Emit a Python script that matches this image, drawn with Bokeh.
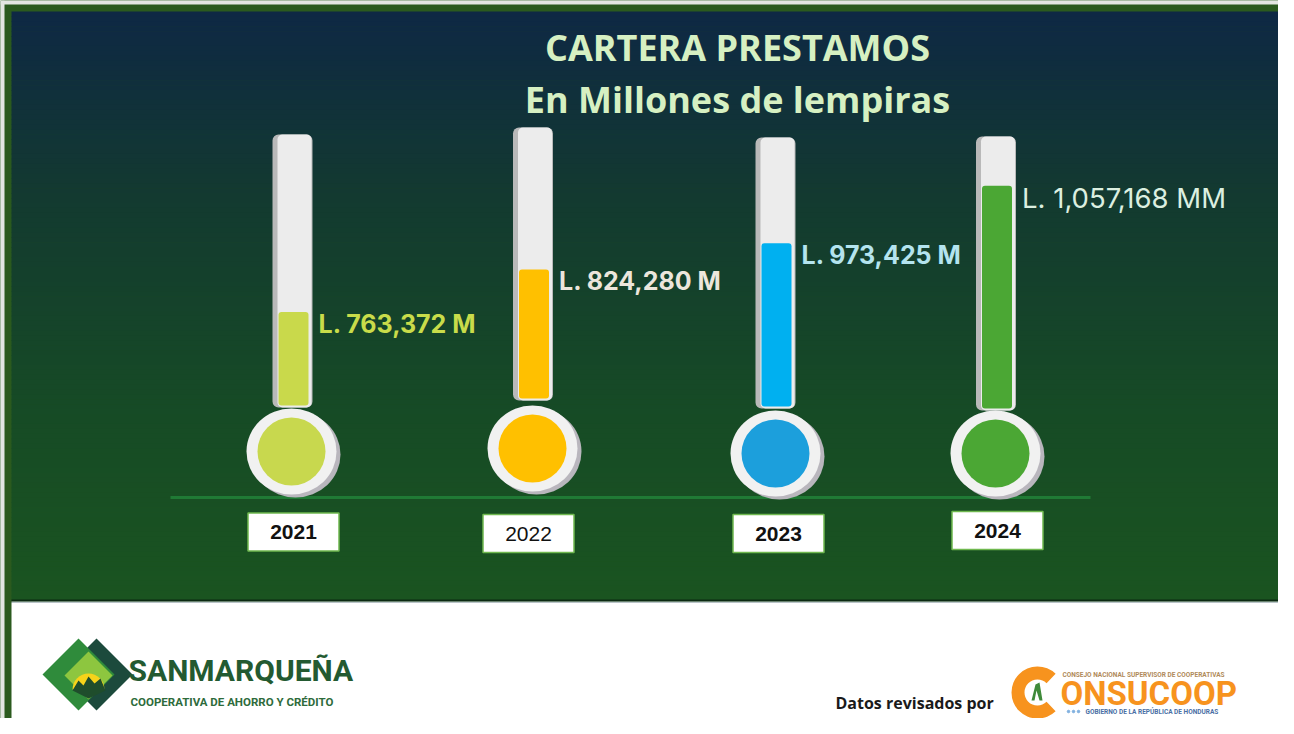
import numpy as np
from bokeh.plotting import figure
from bokeh.models import Range1d, ColumnDataSource
from bokeh.core.properties import value
from bokeh.embed import file_html
from bokeh.resources import INLINE

# ---------------- data ----------------
anios = ["2021", "2022", "2023", "2024"]
cartera = [763372, 824280, 973425, 1057168]
sufijo = ["M", "M", "M", "MM"]
nivel = [0.35, 0.48, 0.61, 0.82]          # fill level of each thermometer
titulo1 = "CARTERA PRESTAMOS"
titulo2 = "En Millones de lempiras"

# ---------------- styles / layout ----------------
col_relleno = ["#c9d94b", "#ffc000", "#00b0f0", "#4ba734"]
col_bulbo = ["#c8d84e", "#ffc000", "#1c9fdc", "#4ba734"]
col_etiqueta = ["#c9dc4a", "#ece6dc", "#b4e4ef", "#dcefe0"]
estilo_etiqueta = ["bold", "bold", "bold", "normal"]
tam_etiqueta = ["25px", "25px", "25px", "27.5px"]
estilo_anio = ["bold", "normal", "bold", "bold"]

tubo_x = [284, 524.5, 767, 987.5]
tubo_top = [126, 119, 129, 128]
tubo_bot = [399, 392, 400, 402]
bulbo_x = [283, 524, 767, 987]
bulbo_y = [443, 440, 445, 445]
caja_x = [285, 520, 770, 989]
caja_y = [523.5, 525, 525, 522]

W, H = 1278, 718
FRAME = "#2b5a1e"

p = figure(width=W, height=H, x_range=Range1d(-8, W - 8), y_range=Range1d(H - 8, -8),
           output_backend="svg", toolbar_location=None, min_border=0)
p.axis.visible = False
p.grid.visible = False
p.outline_line_color = None
p.background_fill_color = FRAME
p.border_fill_color = FRAME

# outer light edge
p.quad(left=-8, right=-4, top=-8, bottom=720, fill_color="#e4e6e2", line_color=None)
p.quad(left=-8, right=1280, top=-8, bottom=-4, fill_color="#e4e6e2", line_color=None)

# ---------------- panel gradient ----------------
stops_y = [3, 190, 390, 592]
stops_c = [(14, 40, 68), (19, 58, 48), (22, 74, 38), (26, 84, 32)]
n = 120
ys = np.linspace(3, 592, n + 1)
cols = []
for i in range(n):
    ym = (ys[i] + ys[i + 1]) / 2
    rgb = [np.interp(ym, stops_y, [c[k] for c in stops_c]) for k in range(3)]
    cols.append("#%02x%02x%02x" % tuple(int(round(v)) for v in rgb))
p.quad(left=3, right=1280, top=ys[:-1], bottom=ys[1:] + 0.6, fill_color=cols, line_color=None)

# separator + footer
p.quad(left=3, right=1280, top=591, bottom=593, fill_color="#0c2a12", line_color=None)
p.quad(left=3, right=1280, top=593, bottom=594.5, fill_color="#b9c4c8", line_color=None)
p.quad(left=3, right=1280, top=594.5, bottom=720, fill_color="#ffffff", line_color=None)

# ---------------- title ----------------
p.text(x=[729], y=[39], text=[titulo1], text_font=value("Open Sans"), text_font_size="36px",
       text_font_style="bold", text_color="#d6f0c2", text_align="center", text_baseline="middle")
p.text(x=[729], y=[91], text=[titulo2], text_font=value("Open Sans"), text_font_size="36px",
       text_font_style="bold", text_color="#d6f0c2", text_align="center", text_baseline="middle")

# ---------------- thermometers ----------------
fill_top = [b - lv * (b - t) for b, t, lv in zip(tubo_bot, tubo_top, nivel)]
src = ColumnDataSource(dict(
    tx=tubo_x, tt=tubo_top, tb=tubo_bot, ft=fill_top, fb=[b - 2 for b in tubo_bot],
    txi=[x + 2 for x in tubo_x], fx=[x + 1 for x in tubo_x],
    bx=bulbo_x, by=bulbo_y, bxs=[x + 4 for x in bulbo_x], bys=[y + 3 for y in bulbo_y],
    cf=col_relleno, cb=col_bulbo,
))

# baseline
p.segment(x0=162, y0=489, x1=1082, y1=489, line_color="#207a35", line_width=3)

# tube
p.vbar(x="tx", width=40, top="tt", bottom="tb", source=src, fill_color="#b9b9b9",
       line_color=None, border_radius=6)
p.vbar(x="txi", width=34, top="tt", bottom="tb", source=src, fill_color="#ececec",
       line_color=None, border_radius=5)
p.vbar(x="fx", width=30, top="ft", bottom="fb", source=src,
       fill_color="cf", line_color=None, border_radius=3)

# bulb
p.ellipse(x="bxs", y="bys", width=90, height=86, source=src, fill_color="#b9b6bd", line_color=None)
p.ellipse(x="bx", y="by", width=90, height=86, source=src, fill_color="#f1f1f1", line_color=None)
p.ellipse(x="bx", y="by", width=68, height=68, source=src, fill_color="cb", line_color=None)

# value labels
etiquetas = ["L. {:,} {}".format(v, s) for v, s in zip(cartera, sufijo)]
lab = ColumnDataSource(dict(x=[x + 26 for x in tubo_x], y=[f + 12 for f in fill_top],
                            t=etiquetas, c=col_etiqueta, s=estilo_etiqueta, z=tam_etiqueta))
p.text(x="x", y="y", text="t", source=lab, text_font=value("Inter"), text_font_size="z",
       text_font_style="s", text_color="c", text_align="left", text_baseline="middle")

# year boxes
yb = ColumnDataSource(dict(x=caja_x, y=caja_y, t=anios, s=estilo_anio))
p.rect(x="x", y="y", width=91, height=38, source=yb, fill_color="#ffffff",
       line_color="#6fb84f", line_width=1.5)
p.text(x="x", y="y", text="t", source=yb, text_font=value("Liberation Sans"), text_font_size="21px",
       text_font_style="s", text_color="#111111", text_align="center", text_baseline="middle")

# ---------------- footer: SANMARQUEÑA logo ----------------
def diamond(cx, cy, hw, hh):
    return [cx - hw, cx, cx + hw, cx], [cy, cy - hh, cy, cy + hh]

dx, dy = diamond(88, 666, 36, 36)
p.patch(dx, dy, fill_color="#1c4a3c", line_color=None)
dx, dy = diamond(70, 666, 36, 36)
p.patch(dx, dy, fill_color="#2f8b3b", line_color=None)
dx, dy = diamond(80, 667, 24, 24)
p.patch(dx, dy, fill_color="#8dc63f", line_color=None)
p.wedge(x=[80], y=[681], radius=16, start_angle=0, end_angle=np.pi, direction="anticlock",
        fill_color="#f6d31a", line_color=None)
p.patch([64, 70, 75, 80, 86, 92, 97, 80], [682, 672, 677, 668, 675, 670, 682, 690],
        fill_color="#1f4d2c", line_color=None)
p.text(x=[120], y=[662], text=["SANMARQUEÑA"], text_font=value("Roboto"), text_font_size="30px",
       text_font_style="bold", text_color="#235a31", text_align="left", text_baseline="middle")
p.text(x=[122], y=[693], text=["COOPERATIVA DE AHORRO Y CRÉDITO"], text_font=value("Roboto"),
       text_font_size="11.5px", text_font_style="bold", text_color="#2e6b3b",
       text_align="left", text_baseline="middle")

# ---------------- footer: CONSUCOOP ----------------
p.text(x=[827], y=[694], text=["Datos revisados por"], text_font=value("Open Sans"),
       text_font_size="16px", text_font_style="bold", text_color="#1a1a1a",
       text_align="left", text_baseline="middle")
p.annular_wedge(x=[1029], y=[684], inner_radius=13, outer_radius=26, start_angle=0.8,
                end_angle=-0.8 + 2 * np.pi, direction="anticlock", fill_color="#f7931e", line_color=None)
p.patch([1023, 1027, 1031, 1034, 1031, 1028, 1026], [692, 676, 674, 692, 692, 682, 692],
        fill_color="#3f8a3a", line_color=None)
p.text(x=[1052], y=[685], text=["ONSUCOOP"], text_font=value("Roboto"), text_font_size="33px",
       text_font_style="bold", text_color="#f7931e", text_align="left", text_baseline="middle")
p.text(x=[1054], y=[666], text=["CONSEJO NACIONAL SUPERVISOR DE COOPERATIVAS"], text_font=value("Roboto"),
       text_font_size="6.5px", text_font_style="bold", text_color="#b08a5a",
       text_align="left", text_baseline="middle")
p.scatter(x=[1060, 1065, 1070], y=[703, 703, 703], size=2.5, color="#7fb0e0")
p.text(x=[1077], y=[703], text=["GOBIERNO DE LA REPÚBLICA DE HONDURAS"], text_font=value("Roboto"),
       text_font_size="6.5px", text_font_style="bold", text_color="#4a6fa5",
       text_align="left", text_baseline="middle")

open("out.html", "w").write(file_html(p, INLINE))
